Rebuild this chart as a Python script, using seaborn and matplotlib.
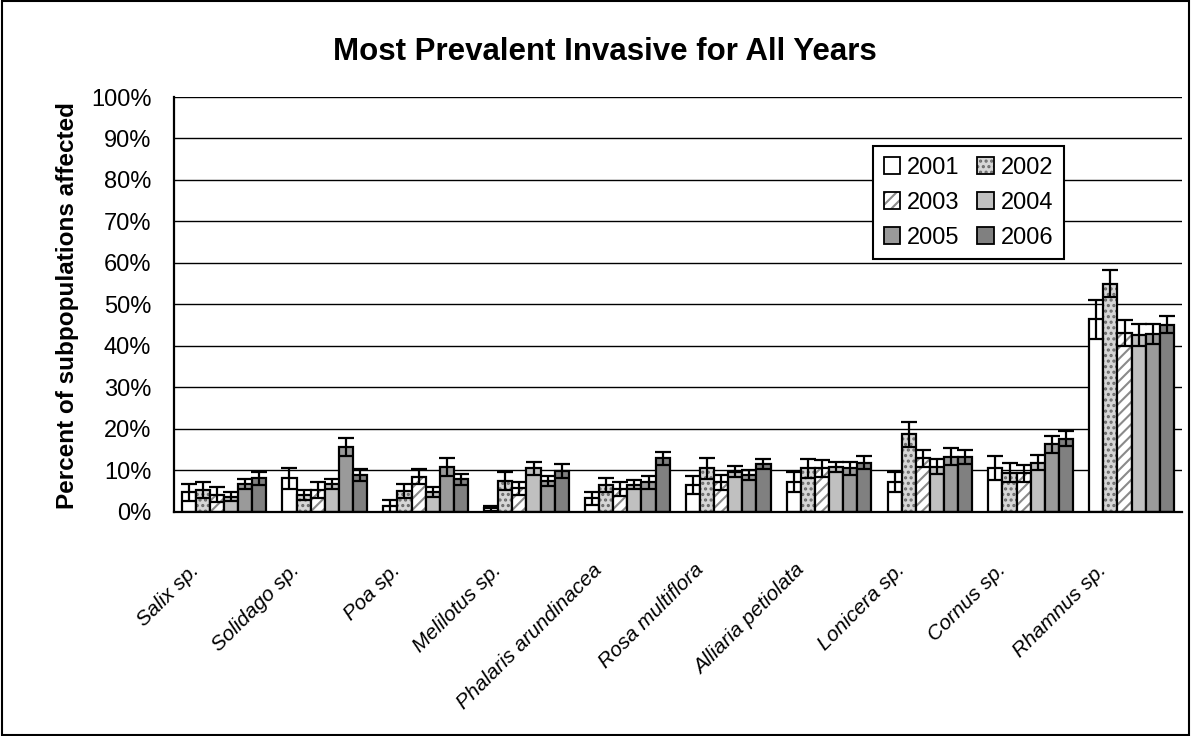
import numpy as np
import pandas as pd
import matplotlib
matplotlib.use("Agg")
import matplotlib.pyplot as plt
import matplotlib.colors as mcolors
from matplotlib import font_manager
from matplotlib.patches import Rectangle, Patch
from matplotlib.transforms import ScaledTranslation
import seaborn as sns

# ---------------- data ----------------
species = ['Salix sp.', 'Solidago sp.', 'Poa sp.', 'Melilotus sp.', 'Phalaris arundinacea',
           'Rosa multiflora', 'Alliaria petiolata', 'Lonicera sp.', 'Cornus sp.', 'Rhamnus sp.']
years = ['2001', '2002', '2003', '2004', '2005', '2006']

v2001 = [4.6, 8.0, 1.4, 0.8, 3.2, 6.4, 7.2, 7.2, 10.6, 46.4]
v2002 = [5.2, 4.0, 5.0, 7.4, 6.4, 10.4, 10.4, 18.6, 9.4, 55.0]
v2003 = [4.0, 5.2, 8.4, 5.6, 5.5, 7.0, 10.4, 12.8, 9.2, 43.0]
v2004 = [3.6, 6.6, 4.6, 10.4, 6.5, 9.6, 10.8, 10.8, 11.8, 42.6]
v2005 = [6.6, 15.6, 10.8, 7.4, 7.0, 8.8, 10.4, 13.2, 16.2, 42.8]
v2006 = [8.0, 8.8, 7.8, 9.8, 12.8, 11.4, 11.8, 13.2, 17.6, 45.1]

e2001 = [2.0, 2.6, 1.4, 0.6, 1.6, 2.2, 2.4, 2.4, 2.9, 4.7]
e2002 = [2.0, 1.2, 1.7, 2.2, 1.8, 2.6, 2.2, 3.0, 2.2, 3.2]
e2003 = [1.8, 2.0, 1.8, 1.6, 1.7, 1.8, 2.0, 2.1, 2.0, 3.1]
e2004 = [1.0, 1.2, 1.2, 1.6, 1.1, 1.3, 1.2, 1.8, 1.8, 2.7]
e2005 = [1.2, 2.2, 2.2, 1.2, 1.5, 1.3, 1.5, 2.1, 2.0, 2.5]
e2006 = [1.6, 1.4, 1.3, 1.7, 1.6, 1.2, 1.6, 1.7, 1.8, 2.1]

yticks = [0, 10, 20, 30, 40, 50, 60, 70, 80, 90, 100]
ytick_labels = ['0%', '10%', '20%', '30%', '40%', '50%', '60%', '70%', '80%', '90%', '100%']

values = [v2001, v2002, v2003, v2004, v2005, v2006]
errors = [e2001, e2002, e2003, e2004, e2005, e2006]

rows = []
for y, vals in zip(years, values):
    for s, v in zip(species, vals):
        rows.append({'species': s, 'year': y, 'value': v})
df = pd.DataFrame(rows)

# ---------------- style ----------------
sns.set_style('white')
plt.rcParams['font.family'] = ['Liberation Sans', 'DejaVu Sans']
plt.rcParams['hatch.linewidth'] = 1.5
for k in ['text.color', 'axes.labelcolor', 'xtick.color', 'ytick.color', 'axes.edgecolor']:
    plt.rcParams[k] = 'black'

installed = {f.name for f in font_manager.fontManager.ttflist}
if 'Liberation Sans Narrow' in installed:
    xlab_family, xlab_size = ['Liberation Sans Narrow', 'Liberation Sans'], 17.5
else:
    xlab_family, xlab_size = ['Liberation Sans', 'DejaVu Sans'], 15

palette = {'2001': '#ffffff', '2002': '#d6d6d6', '2003': '#ffffff',
           '2004': '#c0c0c0', '2005': '#9a9a9a', '2006': '#808080'}
hatches = {'2002': '...', '2003': '///'}
hatch_colors = {'2002': '#6a6a6a', '2003': '#8a8a8a'}

fig = plt.figure(figsize=(11.91, 7.36), dpi=100)
ax = fig.add_axes([173.5 / 1191, 1 - 511.5 / 736, (1182 - 173.5) / 1191, (511.5 - 97) / 736])

sns.barplot(data=df, x='species', y='value', hue='year', order=species, hue_order=years,
            palette=palette, saturation=1, width=0.84, gap=0, edgecolor='black',
            linewidth=1.6, errorbar=None, legend=False, ax=ax, zorder=2)

bar_containers = list(ax.containers)
for yi, cont in enumerate(bar_containers):
    yr = years[yi]
    xs, hs, es = [], [], []
    for p in cont:
        xc = p.get_x() + p.get_width() / 2
        idx = int(round(xc))
        xs.append(xc)
        hs.append(p.get_height())
        es.append(errors[yi][idx])
        if yr in hatches:
            p.set_hatch(hatches[yr])
            p._hatch_color = mcolors.to_rgba(hatch_colors[yr])
    ax.errorbar(xs, hs, yerr=es, fmt='none', ecolor='black', elinewidth=1.6,
                capsize=5.5, capthick=1.6, zorder=5)

# axes
ax.set_ylim(0, 100)
ax.set_xlim(-0.5, len(species) - 0.5)
ax.set_yticks(yticks)
ax.set_yticklabels(ytick_labels, fontsize=17)
ax.yaxis.grid(True, color='black', linewidth=1.0)
ax.set_axisbelow(True)
ax.set_xlabel('')
ax.set_ylabel('')
for side in ['top', 'right']:
    ax.spines[side].set_visible(False)
for side in ['left', 'bottom']:
    ax.spines[side].set_color('black')
    ax.spines[side].set_linewidth(1.6)
ax.tick_params(axis='y', which='major', direction='out', length=6, width=1.5, color='black', pad=10)

ax.set_xticks(range(len(species)))
ax.set_xticks(np.arange(-0.5, len(species), 1.0), minor=True)
ax.tick_params(axis='x', which='minor', direction='out', length=7, width=1.5, color='black')
ax.tick_params(axis='x', which='major', length=0, pad=40)
ax.set_xticklabels(species, rotation=45, ha='right', va='center', rotation_mode='anchor',
                   fontsize=xlab_size, fontstyle='italic', family=xlab_family)
offset = ScaledTranslation(-0.28, 0, fig.dpi_scale_trans)
for lab in ax.get_xticklabels():
    lab.set_transform(lab.get_transform() + offset)

# legend (row-wise order)
handles = {}
for yr in years:
    h = Patch(facecolor=palette[yr], edgecolor='black', linewidth=1.3, hatch=hatches.get(yr))
    if yr in hatches:
        h._hatch_color = mcolors.to_rgba(hatch_colors[yr])
    handles[yr] = h
order = ['2001', '2003', '2005', '2002', '2004', '2006']
leg = fig.legend([handles[o] for o in order], order, loc='upper left',
                 bbox_to_anchor=(873 / 1191, 1 - 146 / 736), bbox_transform=fig.transFigure,
                 borderaxespad=0, ncol=2, fontsize=17, frameon=True, fancybox=False,
                 framealpha=1, edgecolor='black', handlelength=0.7, handleheight=0.7,
                 handletextpad=0.3, columnspacing=0.75, labelspacing=0.55, borderpad=0.45)
leg.get_frame().set_linewidth(1.5)

# title and y label
fig.text(605 / 1191, 1 - 52 / 736, 'Most Prevalent Invasive for All Years',
         ha='center', va='center', fontsize=22.5, fontweight='bold')
fig.text(68 / 1191, 1 - 306 / 736, 'Percent of subpopulations affected',
         ha='center', va='center', rotation=90, fontsize=17.5, fontweight='bold')

# outer chart border
fig.patches.append(Rectangle((0.0015, 0.002), 0.997, 0.996, transform=fig.transFigure,
                             fill=False, edgecolor='black', linewidth=1.5))

fig.savefig('out.png', dpi=100)
